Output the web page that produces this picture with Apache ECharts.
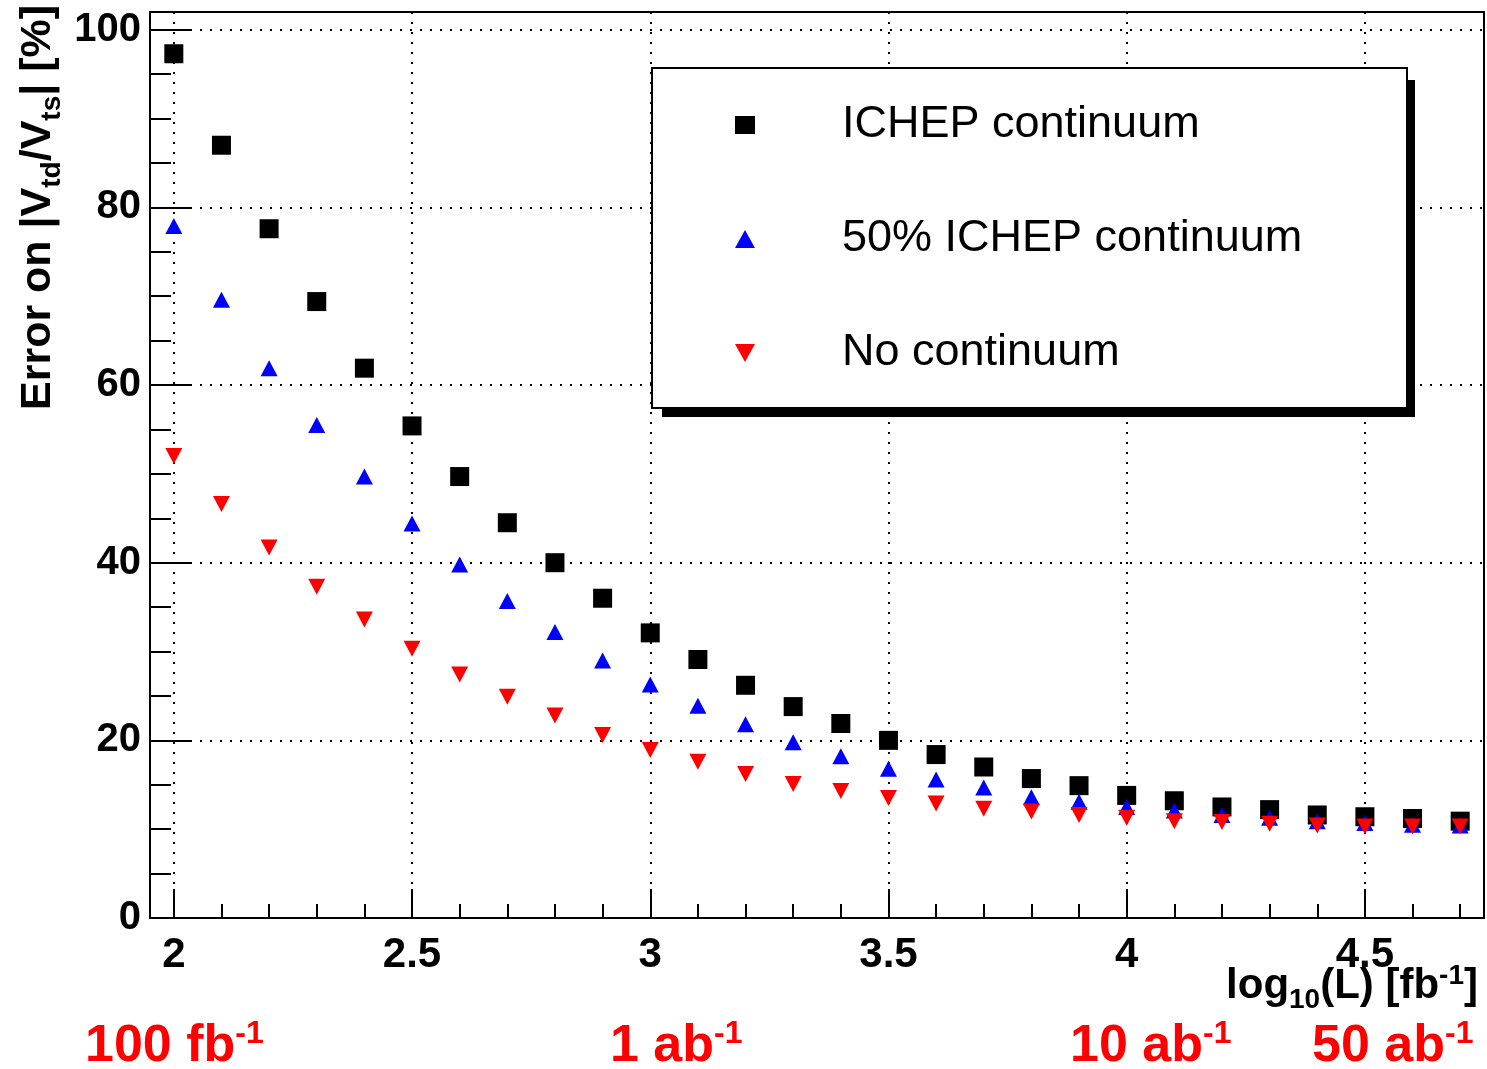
<!DOCTYPE html>
<html>
<head>
<meta charset="utf-8">
<script src="https://cdn.jsdelivr.net/npm/echarts@6/dist/echarts.min.js"></script>
<style>
html,body{margin:0;padding:0;background:#fff;}
#chart{width:1487px;height:1069px;}
</style>
</head>
<body>
<div id="chart"></div>
<script>
// ---- data (log10 of integrated luminosity in fb^-1) ----
const xValues = [2.0, 2.1, 2.2, 2.3, 2.4, 2.5, 2.6, 2.7, 2.8, 2.9, 3.0, 3.1, 3.2, 3.3,
                 3.4, 3.5, 3.6, 3.7, 3.8, 3.9, 4.0, 4.1, 4.2, 4.3, 4.4, 4.5, 4.6, 4.7];
const ichepContinuum = [97.3, 87.0, 77.6, 69.4, 61.9, 55.4, 49.7, 44.5, 40.0, 36.0, 32.1, 29.1, 26.2, 23.8,
                        21.9, 20.0, 18.4, 17.0, 15.7, 14.9, 13.8, 13.2, 12.5, 12.2, 11.6, 11.4, 11.2, 10.9];
const halfIchepContinuum = [77.9, 69.6, 61.9, 55.5, 49.7, 44.4, 39.8, 35.7, 32.2, 29.0, 26.3, 23.9, 21.8, 19.8,
                            18.2, 16.8, 15.6, 14.7, 13.6, 13.1, 12.5, 12.1, 11.6, 11.3, 10.9, 10.7, 10.5, 10.4];
const noContinuum = [52.0, 46.6, 41.7, 37.3, 33.6, 30.3, 27.4, 24.9, 22.8, 20.6, 18.9, 17.6, 16.2, 15.1,
                     14.3, 13.5, 12.9, 12.3, 12.0, 11.6, 11.3, 10.9, 10.8, 10.6, 10.4, 10.3, 10.3, 10.3];
const seriesNames = ['ICHEP continuum', '50% ICHEP continuum', 'No continuum'];

// ---- tick positions ----
const xMajorTicks = [2, 2.5, 3, 3.5, 4, 4.5];
const xMinorTicks = [2.0, 2.1, 2.2, 2.3, 2.4, 2.5, 2.6, 2.7, 2.8, 2.9, 3.0, 3.1, 3.2, 3.3,
                     3.4, 3.5, 3.6, 3.7, 3.8, 3.9, 4.0, 4.1, 4.2, 4.3, 4.4, 4.5, 4.6, 4.7];
const yMajorTicks = [0, 20, 40, 60, 80, 100];
const yMinorTicks = [5, 10, 15, 25, 30, 35, 45, 50, 55, 65, 70, 75, 85, 90, 95];

const FONT = '"Liberation Sans", Arial, Helvetica, sans-serif';

function pairs(ys) { return xValues.map((x, i) => [x, ys[i]]); }

const chart = echarts.init(document.getElementById('chart'), null, {renderer: 'canvas'});

const dotted = {color: '#000', width: 2, type: [2, 8]};

const option = {
  backgroundColor: '#fff',
  animation: false,
  grid: {
    left: 150, top: 12, right: 3, bottom: 151,
    show: true, borderColor: '#000', borderWidth: 2, backgroundColor: 'transparent',
    containLabel: false, outerBoundsMode: 'none'
  },
  xAxis: [
    {
      type: 'value', min: 1.95, max: 4.75, position: 'bottom',
      axisLine: {show: true, onZero: false, lineStyle: {color: '#000', width: 2}},
      axisTick: {show: true, inside: true, length: 29, customValues: xMajorTicks,
                 lineStyle: {color: '#000', width: 2}},
      axisLabel: {show: true, customValues: xMajorTicks, fontSize: 42, fontWeight: 'bold',
                  color: '#000', fontFamily: FONT, margin: 16},
      splitLine: {show: true, lineStyle: dotted}
    },
    {
      type: 'value', min: 1.95, max: 4.75, position: 'bottom',
      axisLine: {show: false, onZero: false},
      axisTick: {show: true, inside: true, length: 14, customValues: xMinorTicks,
                 lineStyle: {color: '#000', width: 2}},
      axisLabel: {show: false},
      splitLine: {show: false}
    }
  ],
  yAxis: [
    {
      type: 'value', min: 0, max: 102, position: 'left',
      axisLine: {show: true, onZero: false, lineStyle: {color: '#000', width: 2}},
      axisTick: {show: true, inside: true, length: 42, customValues: yMajorTicks,
                 lineStyle: {color: '#000', width: 2}},
      axisLabel: {show: true, customValues: yMajorTicks, fontSize: 40, fontWeight: 'bold',
                  color: '#000', fontFamily: FONT, margin: 9},
      splitLine: {show: true, lineStyle: dotted}
    },
    {
      type: 'value', min: 0, max: 102, position: 'left',
      axisLine: {show: false, onZero: false},
      axisTick: {show: true, inside: true, length: 21, customValues: yMinorTicks,
                 lineStyle: {color: '#000', width: 2}},
      axisLabel: {show: false},
      splitLine: {show: false}
    }
  ],
  legend: {
    orient: 'vertical', left: 735, top: 102, padding: 0,
    itemWidth: 20, itemHeight: 18, itemGap: 68,
    selectedMode: false, z: 10,
    textStyle: {fontSize: 45, lineHeight: 46, color: '#000', fontFamily: FONT, padding: [0, 0, 0, 82]},
    data: seriesNames
  },
  graphic: [
    {type: 'rect', z: 8, silent: true, shape: {x: 662, y: 80, width: 753, height: 337}, style: {fill: '#000'}},
    {type: 'rect', z: 9, silent: true, shape: {x: 652, y: 68, width: 755, height: 340},
     style: {fill: '#fff', stroke: '#000', lineWidth: 2}},
    {
      type: 'text', z: 10, silent: true, x: 38, y: 410, rotation: Math.PI / 2,
      style: {
        text: '{m|Error on |V}{s|td}{m|/V}{s|ts}{m|| [%]}',
        align: 'left', verticalAlign: 'middle',
        rich: {
          m: {fontSize: 43, fontWeight: 'bold', fontFamily: FONT, fill: '#000', lineHeight: 50},
          s: {fontSize: 28, fontWeight: 'bold', fontFamily: FONT, fill: '#000', lineHeight: 28,
              verticalAlign: 'top', padding: [25, 0, 0, 0]}
        }
      }
    },
    {
      type: 'text', z: 10, silent: true, x: 1478, y: 986,
      style: {
        text: '{m|log}{s|10}{m|(L) [fb}{p|-1}{m|]}',
        align: 'right', verticalAlign: 'middle',
        rich: {
          m: {fontSize: 42, fontWeight: 'bold', fontFamily: FONT, fill: '#000', lineHeight: 48},
          s: {fontSize: 28, fontWeight: 'bold', fontFamily: FONT, fill: '#000', lineHeight: 28,
              verticalAlign: 'top', padding: [24, 0, 0, 0]},
          p: {fontSize: 28, fontWeight: 'bold', fontFamily: FONT, fill: '#000', lineHeight: 28,
              verticalAlign: 'top'}
        }
      }
    },
    ...[
      {t: '100 fb', p: '-1', x: 85},
      {t: '1 ab', p: '-1', x: 610},
      {t: '10 ab', p: '-1', x: 1070},
      {t: '50 ab', p: '-1', x: 1312}
    ].map(o => ({
      type: 'text', z: 10, silent: true, x: o.x, y: 1047,
      style: {
        text: '{m|' + o.t + '}{p|' + o.p + '}',
        align: 'left', verticalAlign: 'middle',
        rich: {
          m: {fontSize: 52, fontWeight: 'bold', fontFamily: FONT, fill: '#ff0000', lineHeight: 58},
          p: {fontSize: 32, fontWeight: 'bold', fontFamily: FONT, fill: '#ff0000', lineHeight: 32,
              verticalAlign: 'top'}
        }
      }
    }))
  ],
  series: [
    {
      name: seriesNames[0], type: 'scatter', xAxisIndex: 0, yAxisIndex: 0,
      symbol: 'rect', symbolSize: 19, itemStyle: {color: '#000', opacity: 1}, z: 3,
      data: pairs(ichepContinuum)
    },
    {
      name: seriesNames[1], type: 'scatter', xAxisIndex: 0, yAxisIndex: 0,
      symbol: 'path://M5,0L10,9L0,9Z', symbolSize: [17, 16], itemStyle: {color: '#0000ff', opacity: 1}, z: 4,
      data: pairs(halfIchepContinuum)
    },
    {
      name: seriesNames[2], type: 'scatter', xAxisIndex: 0, yAxisIndex: 0,
      symbol: 'path://M0,0L10,0L5,9Z', symbolSize: [17, 16], itemStyle: {color: '#ff0000', opacity: 1}, z: 5,
      data: pairs(noContinuum)
    }
  ]
};

chart.setOption(option);
</script>
</body>
</html>
